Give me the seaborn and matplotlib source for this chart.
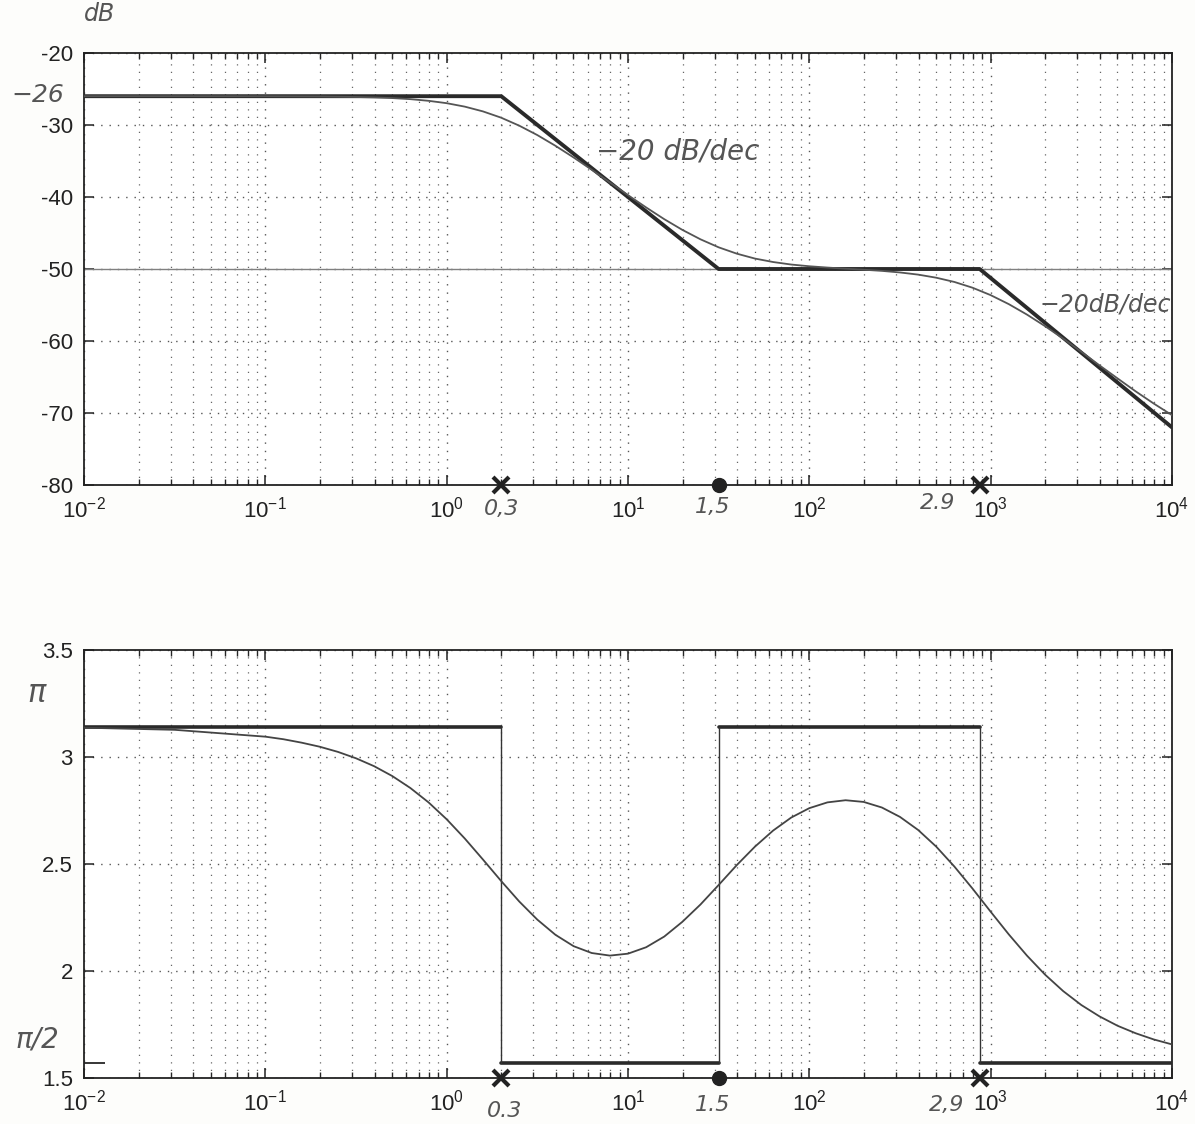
import numpy as np
import pandas as pd
import matplotlib
matplotlib.use("Agg")
import matplotlib.pyplot as plt
import seaborn as sns
from matplotlib.ticker import FixedLocator, NullFormatter

# ---------------------------------------------------------
# données lues sur le scan (exposant log10 de la pulsation)
# ---------------------------------------------------------
log_w = [-2, -1.5,
         -1.0, -0.9, -0.8, -0.7, -0.6, -0.5, -0.4, -0.3, -0.2, -0.1,
         0.0, 0.1, 0.2, 0.3, 0.4, 0.5, 0.6, 0.7, 0.8, 0.9,
         1.0, 1.1, 1.2, 1.3, 1.4, 1.5, 1.6, 1.7, 1.8, 1.9,
         2.0, 2.1, 2.2, 2.3, 2.4, 2.5, 2.6, 2.7, 2.8, 2.9,
         3.0, 3.1, 3.2, 3.3, 3.4, 3.5, 3.6, 3.7, 3.8, 3.9,
         4.0]
gain_db = [-26.0, -26.0,
           -26.01, -26.02, -26.03, -26.04, -26.07, -26.11, -26.17, -26.26, -26.41, -26.64,
           -26.97, -27.45, -28.11, -28.98, -30.09, -31.40, -32.89, -34.51, -36.22, -37.98,
           -39.74, -41.45, -43.08, -44.57, -45.88, -46.99, -47.87, -48.55, -49.03, -49.38,
           -49.62, -49.80, -49.96, -50.10, -50.26, -50.48, -50.78, -51.21, -51.80, -52.60,
           -53.63, -54.88, -56.33, -57.94, -59.67, -61.50, -63.38, -65.2, -67.0, -68.7,
           -70.3]
phase = [3.137, 3.127,
         3.095, 3.083, 3.067, 3.048, 3.024, 2.994, 2.957, 2.911, 2.855, 2.788,
         2.709, 2.619, 2.521, 2.421, 2.325, 2.240, 2.169, 2.116, 2.084, 2.072,
         2.081, 2.111, 2.161, 2.230, 2.311, 2.402, 2.495, 2.581, 2.656, 2.717,
         2.761, 2.788, 2.798, 2.790, 2.764, 2.720, 2.659, 2.581, 2.488, 2.385,
         2.277, 2.171, 2.072, 1.983, 1.906, 1.841, 1.788, 1.744, 1.709, 1.680,
         1.657]

# asymptotes (tracé à la main)
asym_w = [0.01, 2, 31.6, 870, 1e4]
asym_db = [-26, -26, -50, -50, -72]
seg_w = [[0.01, 2], [2, 31.6], [31.6, 870], [870, 1e4]]
seg_phi = [np.pi, np.pi / 2, np.pi, np.pi / 2]
jump_w = [2, 31.6, 870]

# pôles (x) et zéro (o) posés sur l'axe
pole_w = [2, 870]
zero_w = [31.6]
brk_top = ['0,3', '1,5', '2.9']
brk_bot = ['0.3', '1.5', '2,9']

# graduations
decades = [1e-2, 1e-1, 1e0, 1e1, 1e2, 1e3, 1e4]
decade_labels = ['$10^{-2}$', '$10^{-1}$', '$10^{0}$', '$10^{1}$',
                 '$10^{2}$', '$10^{3}$', '$10^{4}$']
mag_ticks = [-20, -30, -40, -50, -60, -70, -80]
phi_ticks = [1.5, 2, 2.5, 3, 3.5]
phi_labels = ['1.5', '2', '2.5', '3', '3.5']

W, H = 1195, 1124

sns.set_style("ticks")
plt.rcParams['font.family'] = ['Liberation Sans', 'DejaVu Sans']
plt.rcParams['mathtext.fontset'] = 'custom'
plt.rcParams['mathtext.rm'] = 'Liberation Sans'
plt.rcParams['mathtext.it'] = 'Liberation Sans:italic'
plt.rcParams['axes.unicode_minus'] = False

fig = plt.figure(figsize=(W / 100, H / 100), dpi=100)
fig.patch.set_facecolor('#fdfdfb')


def fx(px):
    return px / W


def fy(py):
    return 1 - py / H


ax1 = fig.add_axes([fx(84), fy(485), fx(1172) - fx(84), fy(53) - fy(485)])
ax2 = fig.add_axes([fx(84), fy(1078), fx(1172) - fx(84), fy(650) - fy(1078)])

curve = pd.DataFrame({'w': np.power(10.0, log_w), 'db': gain_db, 'phi': phase})
minor_x = [d * k for d in decades[:-1] for k in range(2, 10)]

# ---- module ----
ax1.axhline(-50, color='#808080', lw=1.0, zorder=1)
sns.lineplot(x=asym_w, y=asym_db, ax=ax1, color='#2a2a2a', lw=2.8, zorder=3)
sns.lineplot(data=curve, x='w', y='db', ax=ax1, color='#555555', lw=1.3,
             zorder=4, sort=False)
ax1.set_ylim(-80, -20)
ax1.set_yticks(mag_ticks)

# ---- phase ----
segs = pd.DataFrame({'w': sum(seg_w, []),
                     'phi': [p for p in seg_phi for _ in range(2)],
                     'seg': [i for i in range(len(seg_w)) for _ in range(2)]})
sns.lineplot(data=segs, x='w', y='phi', units='seg', estimator=None, ax=ax2,
             color='#2a2a2a', lw=2.6, zorder=3)
for w in jump_w:
    ax2.plot([w, w], [np.pi / 2, np.pi], color='#333333', lw=1.0, zorder=3)
sns.lineplot(data=curve, x='w', y='phi', ax=ax2, color='#444444', lw=1.3,
             zorder=4, sort=False)
ax2.set_ylim(1.5, 3.5)
ax2.set_yticks(phi_ticks)
ax2.set_yticklabels(phi_labels)

for ax, ybot in [(ax1, -80), (ax2, 1.5)]:
    ax.set_xscale('log')
    ax.set_xlim(1e-2, 1e4)
    ax.xaxis.set_major_locator(FixedLocator(decades))
    ax.set_xticklabels(decade_labels)
    ax.xaxis.set_minor_locator(FixedLocator(minor_x))
    ax.xaxis.set_minor_formatter(NullFormatter())
    ax.set_facecolor('white')
    ax.grid(which='major', axis='both', color='#555555', linestyle=(0, (1, 5)), lw=1.0)
    ax.grid(which='minor', axis='x', color='#666666', linestyle=(0, (1, 5)), lw=0.9)
    ax.tick_params(which='major', direction='in', length=7, width=1.1,
                   top=True, right=True, labelsize=16, pad=8, colors='#222222')
    ax.tick_params(which='minor', direction='in', length=4, width=1.0,
                   top=True, right=False)
    for s in ax.spines.values():
        s.set_visible(True)
        s.set_color('#222222')
        s.set_linewidth(1.3)
    ax.set_xlabel('')
    ax.set_ylabel('')
    # marqueurs des cassures
    ax.plot(pole_w, [ybot] * len(pole_w), 'x', color='#222222', ms=12, mew=3,
            clip_on=False, zorder=6)
    ax.plot(zero_w, [ybot] * len(zero_w), 'o', color='#222222', ms=10,
            clip_on=False, zorder=6)

# petit repère à pi/2 sur l'axe de gauche
ax2.yaxis.set_minor_locator(FixedLocator([np.pi / 2]))
ax2.yaxis.set_minor_formatter(NullFormatter())
ax2.tick_params(axis='y', which='minor', length=15, width=1.3, direction='in',
                left=True, right=False)

# ---- annotations manuscrites ----
hand = dict(color='#555555', style='italic', family=['DejaVu Sans'])
fig.text(fx(100), fy(14), 'dB', fontsize=17, ha='center', va='center', **hand)
fig.text(fx(38), fy(95), '−26', fontsize=18, ha='center', va='center', **hand)
fig.text(fx(596), fy(152), '−20 dB/dec', fontsize=20, ha='left', va='center', **hand)
fig.text(fx(1040), fy(305), '−20dB/dec', fontsize=17, ha='left', va='center', **hand)
fig.text(fx(37), fy(693), 'π', fontsize=22, ha='center', va='center', **hand)
fig.text(fx(37), fy(1040), 'π/2', fontsize=20, ha='center', va='center', **hand)
for px, py, lab in zip([502, 713, 938], [509, 507, 503], brk_top):
    fig.text(fx(px), fy(py), lab, fontsize=16, ha='center', va='center', **hand)
for px, py, lab in zip([505, 713, 947], [1111, 1105, 1105], brk_bot):
    fig.text(fx(px), fy(py), lab, fontsize=16, ha='center', va='center', **hand)

plt.savefig('out.png', dpi=100, facecolor=fig.get_facecolor())
plt.close()
